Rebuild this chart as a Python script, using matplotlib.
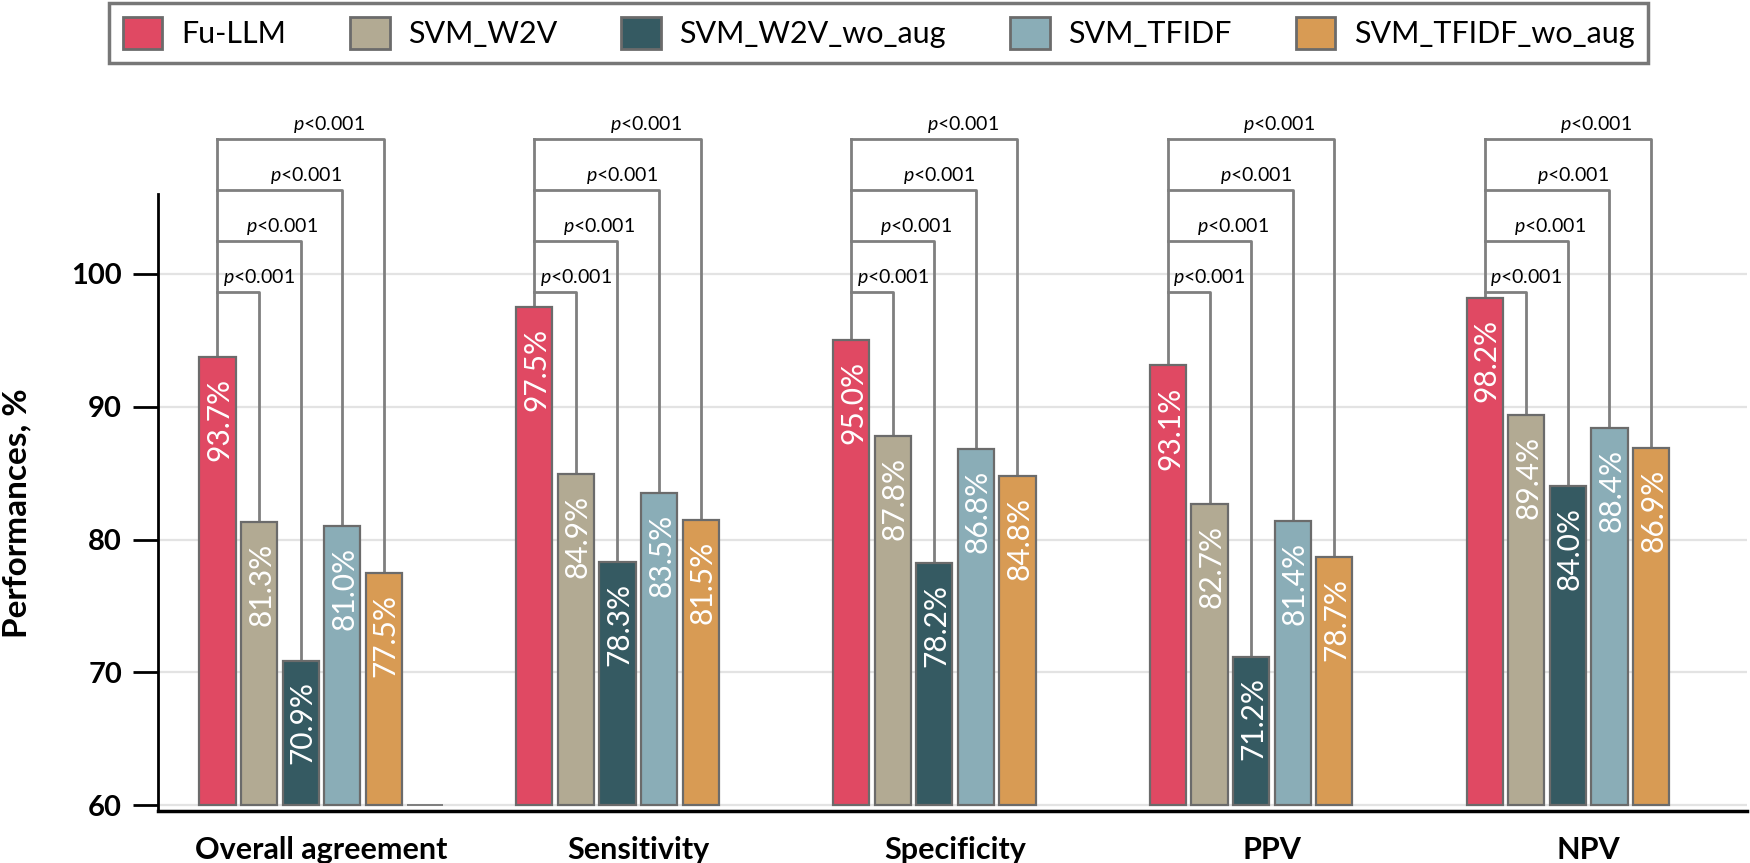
import numpy as np
import matplotlib.pyplot as plt
from matplotlib.patches import Patch

plt.rcParams['font.family'] = ['Lato', 'DejaVu Sans']
plt.rcParams['mathtext.fontset'] = 'custom'
plt.rcParams['mathtext.rm'] = 'Lato'
plt.rcParams['mathtext.it'] = 'Lato:italic'

categories = ['Overall agreement', 'Sensitivity', 'Specificity', 'PPV', 'NPV']
models = ['Fu-LLM', 'SVM_W2V', 'SVM_W2V_wo_aug', 'SVM_TFIDF', 'SVM_TFIDF_wo_aug']
fu_llm = [93.7, 97.5, 95.0, 93.1, 98.2]
svm_w2v = [81.3, 84.9, 87.8, 82.7, 89.4]
svm_w2v_wo_aug = [70.9, 78.3, 78.2, 71.2, 84.0]
svm_tfidf = [81.0, 83.5, 86.8, 81.4, 88.4]
svm_tfidf_wo_aug = [77.5, 81.5, 84.8, 78.7, 86.9]
p_text = r'$\it{p}$<0.001'
# heights of the comparison brackets (Fu-LLM vs each other model)
bracket_h = [98.66, 102.5, 106.3, 110.15]

series = [fu_llm, svm_w2v, svm_w2v_wo_aug, svm_tfidf, svm_tfidf_wo_aug]
colors = ['#E04963', '#B2AA93', '#355A62', '#8AADB7', '#D89B54']
edge = '#6b6b6b'
base = 60

fig = plt.figure(figsize=(17.5, 8.63), dpi=100)
ax = fig.add_axes([158 / 1750, 1 - 810.7 / 863, (1746.7 - 158) / 1750, (810.7 - 194) / 863])

group_step = 7.62
width = 0.87
gx = np.arange(len(categories)) * group_step

ax.set_ylim(59.6, 106.0)
ax.set_xlim(-1.43, gx[-1] + 6.3)

for y in [60, 70, 80, 90, 100]:
    ax.axhline(y, color='#e3e3e3', lw=1.6, zorder=0)

for j, (vals, c) in enumerate(zip(series, colors)):
    xs = gx + j
    ax.bar(xs, np.array(vals) - base, bottom=base, width=width, color=c,
           edgecolor=edge, linewidth=1.6, zorder=2)
    for x, v in zip(xs, vals):
        ax.annotate(f'{v:.1f}%', (x, v), xytext=(1.5, -15), textcoords='offset points',
                    rotation=90, ha='center', va='top', color='white',
                    fontsize=21.5, zorder=3)

# empty sixth slot seen in the first group
ax.bar(gx[0] + 5, 0, bottom=base, width=width, color='none', edgecolor=edge,
       linewidth=1.2, zorder=2)

# significance brackets
bc = '#7f7f7f'
for g in range(len(categories)):
    x0 = gx[g]
    ax.plot([x0, x0], [fu_llm[g], bracket_h[-1]], color=bc, lw=2, clip_on=False, zorder=1)
    for k in range(4):
        xk = gx[g] + k + 1
        h = bracket_h[k]
        ax.plot([x0, xk, xk], [h, h, series[k + 1][g]], color=bc, lw=2,
                clip_on=False, zorder=1)
        ax.text((x0 + xk) / 2 + 0.5 + 0.06 * k, h + 0.3, p_text, ha='center',
                va='bottom', fontsize=14, clip_on=False)

ax.set_xticks(gx + 2.5)
ax.set_xticklabels(categories, fontsize=22, fontweight='bold')
ax.tick_params(axis='x', length=0, pad=18)
ax.set_yticks([60, 70, 80, 90, 100])
ax.set_yticklabels(['60', '70', '80', '90', '100'], fontsize=21, fontweight='bold')
ax.tick_params(axis='y', length=18, width=2, pad=8)

for s in ['top', 'right']:
    ax.spines[s].set_visible(False)
ax.spines['left'].set_linewidth(2)
ax.spines['bottom'].set_linewidth(2.5)

fig.text(17 / 1750, 1 - 513 / 863, 'Performances, %', rotation=90, ha='center',
         va='center', fontsize=24, fontweight='bold')

handles = [Patch(facecolor=c, edgecolor=edge, linewidth=2) for c in colors]
leg = fig.legend(handles, models, ncol=5, loc='upper left',
                 bbox_to_anchor=(109 / 1750, 1 - 3 / 863), borderaxespad=0,
                 fontsize=22, frameon=True, fancybox=False, handlelength=1.3,
                 handleheight=1.27, handletextpad=0.6, columnspacing=2.1,
                 borderpad=0.45)
leg.get_frame().set_edgecolor('#555555')
leg.get_frame().set_linewidth(2.5)

fig.savefig('out.png', dpi=100)
